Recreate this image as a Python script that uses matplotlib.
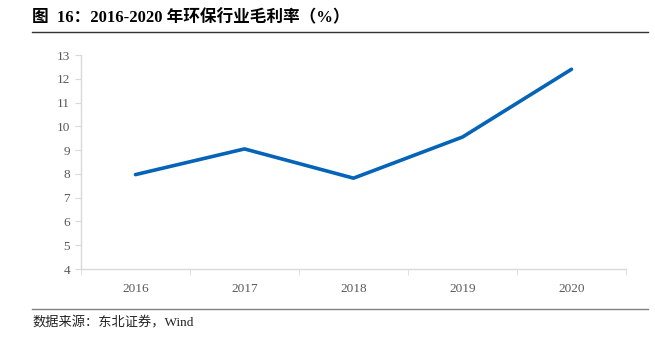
import numpy as np
import matplotlib.pyplot as plt
from matplotlib.lines import Line2D

years = ['2016', '2017', '2018', '2019', '2020']
margin = [7.97, 9.05, 7.82, 9.55, 12.4]
yticks = list(range(4, 14))

title = '图  16：2016-2020 年环保行业毛利率（%）'
source = '数据来源：东北证券，Wind'

fonts = ['Liberation Serif', 'Noto Sans CJK SC']
gray = '#595959'

fig = plt.figure(figsize=(6.55, 3.42), dpi=100)
ax = fig.add_axes([81/655, 73/342, 545/655, 214/342])

x = np.arange(len(years))
ax.plot(x, margin, color='#0563B8', lw=2.6, solid_capstyle='round')

ax.set_xlim(-0.5, len(years) - 0.5)
ax.set_ylim(4, 13)
ax.set_yticks(yticks)
ax.set_yticklabels([str(t) for t in yticks], fontsize=9.5, color=gray, family=fonts)
ax.set_xticks(x)
ax.set_xticklabels(years, fontsize=9.5, color=gray, family=fonts)
ax.set_xticks(np.arange(-0.5, len(years)), minor=True)
ax.tick_params(axis='x', which='major', length=0, pad=10)
ax.tick_params(axis='x', which='minor', length=4, color='#d9d9d9', direction='out')
ax.tick_params(axis='y', length=4, color='#d9d9d9', pad=4)

for s in ['top', 'right']:
    ax.spines[s].set_visible(False)
for s in ['left', 'bottom']:
    ax.spines[s].set_color('#d9d9d9')
    ax.spines[s].set_linewidth(1.0)

# title and source
fig.text(32/655, 1 - 18/342, title, fontsize=12, fontweight='bold', family=fonts,
         ha='left', va='center', color='black')
fig.add_artist(Line2D([32/655, 648/655], [1 - 32/342, 1 - 32/342], color='#333333', lw=1.0))
fig.add_artist(Line2D([32/655, 648/655], [1 - 309/342, 1 - 309/342], color='#808080', lw=1.0))
fig.text(32/655, 1 - 323/342, source, fontsize=9.5, family=fonts,
         ha='left', va='center', color='#222222')

fig.savefig('out.png', dpi=100)
